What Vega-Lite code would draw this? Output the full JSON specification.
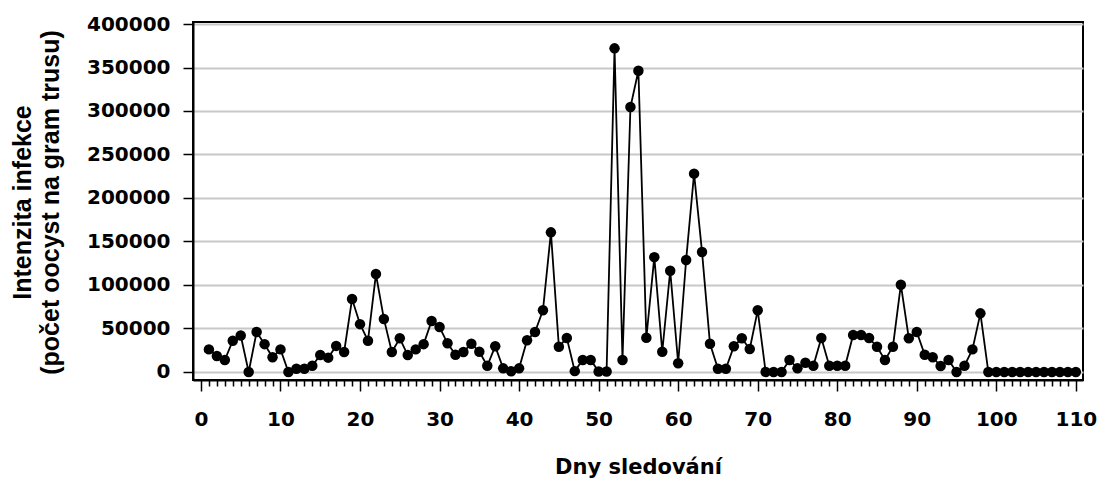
{
  "$schema": "https://vega.github.io/schema/vega-lite/v6.json",
  "width": 890,
  "height": 358,
  "autosize": {"type": "none"},
  "padding": {"left": 193, "top": 22, "right": 14, "bottom": 99},
  "background": "white",
  "config": {
    "view": {"stroke": "black", "strokeWidth": 2},
    "font": "DejaVu Sans"
  },
  "data": {
    "values": [
      {"den": 1, "intenzita": 26000}, {"den": 2, "intenzita": 18400}, {"den": 3, "intenzita": 13800},
      {"den": 4, "intenzita": 36000}, {"den": 5, "intenzita": 42000}, {"den": 6, "intenzita": 0},
      {"den": 7, "intenzita": 46000}, {"den": 8, "intenzita": 32000}, {"den": 9, "intenzita": 17000},
      {"den": 10, "intenzita": 26000}, {"den": 11, "intenzita": 0}, {"den": 12, "intenzita": 3800},
      {"den": 13, "intenzita": 3800}, {"den": 14, "intenzita": 7200}, {"den": 15, "intenzita": 19500},
      {"den": 16, "intenzita": 16500}, {"den": 17, "intenzita": 30000}, {"den": 18, "intenzita": 23000},
      {"den": 19, "intenzita": 84000}, {"den": 20, "intenzita": 55000}, {"den": 21, "intenzita": 36000},
      {"den": 22, "intenzita": 112600}, {"den": 23, "intenzita": 61000}, {"den": 24, "intenzita": 23000},
      {"den": 25, "intenzita": 38700}, {"den": 26, "intenzita": 19500}, {"den": 27, "intenzita": 26000},
      {"den": 28, "intenzita": 32000}, {"den": 29, "intenzita": 58600}, {"den": 30, "intenzita": 51700},
      {"den": 31, "intenzita": 33000}, {"den": 32, "intenzita": 19900}, {"den": 33, "intenzita": 23000},
      {"den": 34, "intenzita": 32500}, {"den": 35, "intenzita": 23300}, {"den": 36, "intenzita": 7200},
      {"den": 37, "intenzita": 29500}, {"den": 38, "intenzita": 4200}, {"den": 39, "intenzita": 800},
      {"den": 40, "intenzita": 4200}, {"den": 41, "intenzita": 36400}, {"den": 42, "intenzita": 46000},
      {"den": 43, "intenzita": 70900}, {"den": 44, "intenzita": 160500}, {"den": 45, "intenzita": 29100},
      {"den": 46, "intenzita": 39000}, {"den": 47, "intenzita": 1000}, {"den": 48, "intenzita": 13800},
      {"den": 49, "intenzita": 13800}, {"den": 50, "intenzita": 500}, {"den": 51, "intenzita": 500},
      {"den": 52, "intenzita": 372000}, {"den": 53, "intenzita": 13800}, {"den": 54, "intenzita": 304600},
      {"den": 55, "intenzita": 346300}, {"den": 56, "intenzita": 39400}, {"den": 57, "intenzita": 132000},
      {"den": 58, "intenzita": 23300}, {"den": 59, "intenzita": 116400}, {"den": 60, "intenzita": 10000},
      {"den": 61, "intenzita": 128700}, {"den": 62, "intenzita": 228000}, {"den": 63, "intenzita": 138000},
      {"den": 64, "intenzita": 32500}, {"den": 65, "intenzita": 3800}, {"den": 66, "intenzita": 3800},
      {"den": 67, "intenzita": 29500}, {"den": 68, "intenzita": 38700}, {"den": 69, "intenzita": 26400},
      {"den": 70, "intenzita": 70900}, {"den": 71, "intenzita": 0}, {"den": 72, "intenzita": 0},
      {"den": 73, "intenzita": 0}, {"den": 74, "intenzita": 13800}, {"den": 75, "intenzita": 4200},
      {"den": 76, "intenzita": 10700}, {"den": 77, "intenzita": 7200}, {"den": 78, "intenzita": 39000},
      {"den": 79, "intenzita": 7200}, {"den": 80, "intenzita": 7200}, {"den": 81, "intenzita": 7200},
      {"den": 82, "intenzita": 42500}, {"den": 83, "intenzita": 42500}, {"den": 84, "intenzita": 39000},
      {"den": 85, "intenzita": 29100}, {"den": 86, "intenzita": 13800}, {"den": 87, "intenzita": 29100},
      {"den": 88, "intenzita": 100300}, {"den": 89, "intenzita": 38700}, {"den": 90, "intenzita": 46000},
      {"den": 91, "intenzita": 19900}, {"den": 92, "intenzita": 17000}, {"den": 93, "intenzita": 6900},
      {"den": 94, "intenzita": 13800}, {"den": 95, "intenzita": 0}, {"den": 96, "intenzita": 7200},
      {"den": 97, "intenzita": 26000}, {"den": 98, "intenzita": 67400}, {"den": 99, "intenzita": 0},
      {"den": 100, "intenzita": 0}, {"den": 101, "intenzita": 0}, {"den": 102, "intenzita": 0},
      {"den": 103, "intenzita": 0}, {"den": 104, "intenzita": 0}, {"den": 105, "intenzita": 0},
      {"den": 106, "intenzita": 0}, {"den": 107, "intenzita": 0}, {"den": 108, "intenzita": 0},
      {"den": 109, "intenzita": 0}, {"den": 110, "intenzita": 0}
    ]
  },
  "encoding": {
    "x": {
      "field": "den",
      "type": "quantitative",
      "scale": {"domain": [-1, 110.9], "nice": false, "zero": false},
      "axis": {
        "values": [0,1,2,3,4,5,6,7,8,9,10,11,12,13,14,15,16,17,18,19,20,21,22,23,24,25,26,27,28,29,30,31,32,33,34,35,36,37,38,39,40,41,42,43,44,45,46,47,48,49,50,51,52,53,54,55,56,57,58,59,60,61,62,63,64,65,66,67,68,69,70,71,72,73,74,75,76,77,78,79,80,81,82,83,84,85,86,87,88,89,90,91,92,93,94,95,96,97,98,99,100,101,102,103,104,105,106,107,108,109,110],
        "grid": false,
        "tickSize": {"condition": {"test": "datum.value % 10 === 0", "value": 11}, "value": 6},
        "tickColor": "black",
        "tickWidth": 1.5,
        "domainColor": "black",
        "domainWidth": 2,
        "labelExpr": "datum.value % 10 === 0 ? datum.label : ''",
        "labelOverlap": false,
        "labelFlush": false,
        "labelFont": "DejaVu Sans",
        "labelFontWeight": "bold",
        "labelFontSize": 20,
        "labelColor": "black",
        "labelPadding": 18,
        "title": "Dny sledování",
        "titleFont": "DejaVu Sans",
        "titleFontWeight": "bold",
        "titleFontSize": 21,
        "titleColor": "black",
        "titleBaseline": "middle",
        "titleY": 87
      }
    },
    "y": {
      "field": "intenzita",
      "type": "quantitative",
      "scale": {"domain": [-9200, 402300], "nice": false, "zero": false},
      "axis": {
        "values": [0, 50000, 100000, 150000, 200000, 250000, 300000, 350000, 400000],
        "format": "d",
        "grid": true,
        "gridColor": "#c8c8c8",
        "gridWidth": 2,
        "tickSize": 10,
        "tickColor": "black",
        "tickWidth": 1.5,
        "domainColor": "black",
        "domainWidth": 2,
        "labelFont": "DejaVu Sans",
        "labelFontWeight": "bold",
        "labelFontSize": 20,
        "labelColor": "black",
        "labelPadding": 13,
        "labelOverlap": false,
        "labelFlush": false,
        "title": ["Intenzita infekce", "(počet oocyst na gram trusu)"],
        "titleFont": "Liberation Sans",
        "titleFontWeight": "bold",
        "titleFontSize": 25,
        "titleColor": "black",
        "titleLineHeight": 28,
        "titleBaseline": "middle",
        "titleX": -171,
        "titleY": 180
      }
    }
  },
  "layer": [
    {"mark": {"type": "line", "color": "black", "strokeWidth": 1.8}},
    {"mark": {"type": "circle", "color": "black", "size": 110, "opacity": 1}}
  ]
}
